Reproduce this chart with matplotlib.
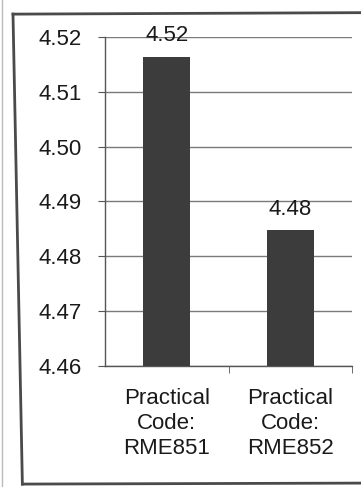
import matplotlib
matplotlib.use("Agg")
import matplotlib.pyplot as plt
from matplotlib.lines import Line2D

categories = ["Practical\nCode:\nRME851", "Practical\nCode:\nRME852"]
values = [4.5164, 4.4848]
value_labels = ["4.52", "4.48"]
yticks = [4.46, 4.47, 4.48, 4.49, 4.50, 4.51, 4.52]

plt.rcParams['font.family'] = ['Liberation Sans', 'DejaVu Sans']

fig = plt.figure(figsize=(3.61, 4.87), dpi=100)
fig.patch.set_facecolor('white')
ax = fig.add_axes([0.291, 0.2485, 0.684, 0.6755])

x = list(range(len(categories)))
ax.bar(x, values, width=0.38, color='#3c3c3c', zorder=3)
for xi, v, lab in zip(x, values, value_labels):
    ax.annotate(lab, (xi, v), xytext=(0, 15), textcoords='offset points',
                ha='center', va='center', fontsize=16, color='#1a1a1a')

ax.set_xlim(-0.5, 1.5)
ax.set_ylim(4.46, 4.52)
ax.set_yticks(yticks)
ax.set_yticklabels([f"{t:.2f}" for t in yticks], fontsize=16, color='#1a1a1a')
ax.yaxis.grid(True, color='#7a7a7a', linewidth=1.0, zorder=0)
ax.set_axisbelow(True)

ax.set_xticks(x)
ax.set_xticklabels(categories, fontsize=16, color='#1a1a1a', linespacing=1.25)
ax.tick_params(axis='x', length=0, pad=16)
ax.set_xticks([0.5, 1.5], minor=True)
ax.tick_params(axis='x', which='minor', length=5, color='#555555', direction='out')
ax.tick_params(axis='y', length=5, color='#555555', direction='out', pad=12)

for s in ['top', 'right']:
    ax.spines[s].set_visible(False)
for s in ['left', 'bottom']:
    ax.spines[s].set_color('#555555')
    ax.spines[s].set_linewidth(1.0)

# outer frame of the scanned chart
fc = '#4a4a4a'
fig.add_artist(Line2D([0.036, 1.0], [0.971, 0.974], color=fc, lw=2, transform=fig.transFigure))
fig.add_artist(Line2D([0.036, 0.062], [0.971, 0.006], color=fc, lw=2, transform=fig.transFigure))
fig.add_artist(Line2D([0.062, 1.0], [0.006, 0.008], color=fc, lw=2, transform=fig.transFigure))
fig.add_artist(Line2D([0.006, 0.006], [0.0, 1.0], color='#bbbbbb', lw=1, transform=fig.transFigure))

fig.savefig("out.png", dpi=100, facecolor='white')
